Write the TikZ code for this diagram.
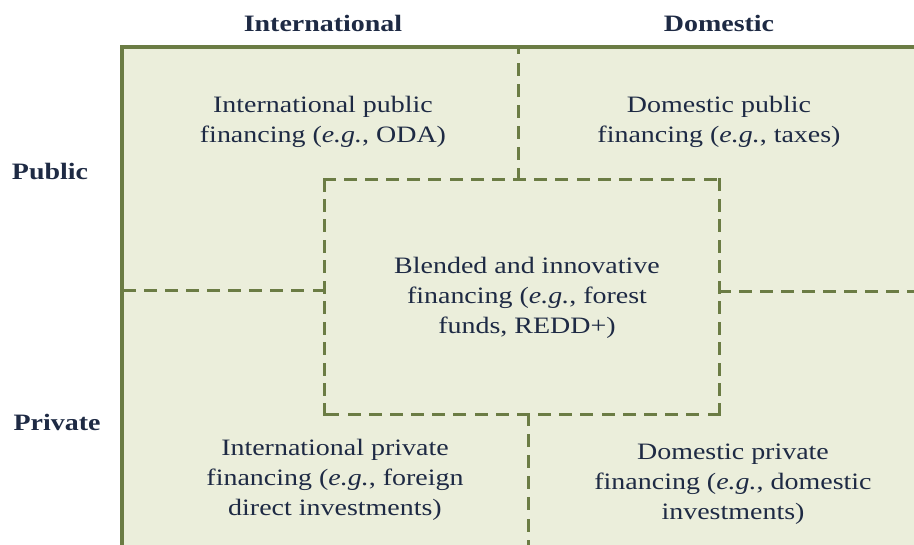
\documentclass[tikz,border=0pt]{standalone}
\usepackage{fontspec}
\setmainfont{Liberation Serif}[FakeStretch=1.19]
\definecolor{cellfill}{HTML}{EBEEDB}
\definecolor{olive}{HTML}{6B7C44}
\definecolor{ink}{HTML}{1E2A44}
\tikzset{
  heading/.style={font=\fontsize{23.5}{30}\selectfont\bfseries, text=ink, inner sep=0pt},
  celltext/.style={font=\fontsize{23.5}{30}\selectfont, text=ink, align=center, inner sep=0pt},
  divider/.style={draw=olive, line width=3pt, line cap=rect, dash pattern=on 10pt off #1},
  divider/.default=11pt,
  frame/.style={draw=olive, line width=3.5pt, fill=cellfill}
}
\begin{document}
\begin{tikzpicture}[x=1pt,y=-1pt]
\useasboundingbox (0,0) rectangle (914,545);
\begin{scope}
\clip (0,0) rectangle (914,545);
\draw[frame] (122,47) rectangle (922,552);
\end{scope}
% coordinates
\coordinate (topmid) at (518,47);
\coordinate (topin) at (518,180);
\coordinate (cTL) at (324,180);
\coordinate (cTR) at (719,180);
\coordinate (cBR) at (719,415);
\coordinate (cBL) at (324,415);
\coordinate (leftmid) at (122,291);
\coordinate (leftin) at (324,291);
\coordinate (rightin) at (719,292);
\coordinate (rightmid) at (914,292);
\coordinate (botin) at (528,415);
\coordinate (botmid) at (528,545);
% dividers (on 10 + rect caps 3 = 13 visible; off chosen so that each segment ends on a dash)
\draw[divider=11.17pt] (topin) -- (topmid);
\draw[divider=11.17pt] (cTL) -- (cTR);
\draw[divider=10.45pt] (cTR) -- (cBR);
\draw[divider=11.17pt] (cBR) -- (cBL);
\draw[divider=10.45pt] (cBL) -- (cTL);
\draw[divider=11.11pt] (leftin) -- (leftmid);
\draw[divider] (rightin) -- (rightmid);
\draw[divider] (botin) -- (botmid);
% headings
\node[heading] (hint) at (323,23) {International};
\node[heading] (hdom) at (719,23) {Domestic};
\node[heading] (hpub) at (50,171) {Public};
\node[heading] (hpri) at (57,422) {Private};
% cells
\node[celltext] (tl) at (323,122) {International public\\financing (\textit{e.g.}, ODA)};
\node[celltext] (tr) at (719,122) {Domestic public\\financing (\textit{e.g.}, taxes)};
\node[celltext] (mid) at (527,298) {Blended and innovative\\financing (\textit{e.g.}, forest\\funds, REDD+)};
\node[celltext] (bl) at (335,480) {International private\\financing (\textit{e.g.}, foreign\\direct investments)};
\node[celltext] (br) at (733,484) {Domestic private\\financing (\textit{e.g.}, domestic\\investments)};
\end{tikzpicture}
\end{document}
